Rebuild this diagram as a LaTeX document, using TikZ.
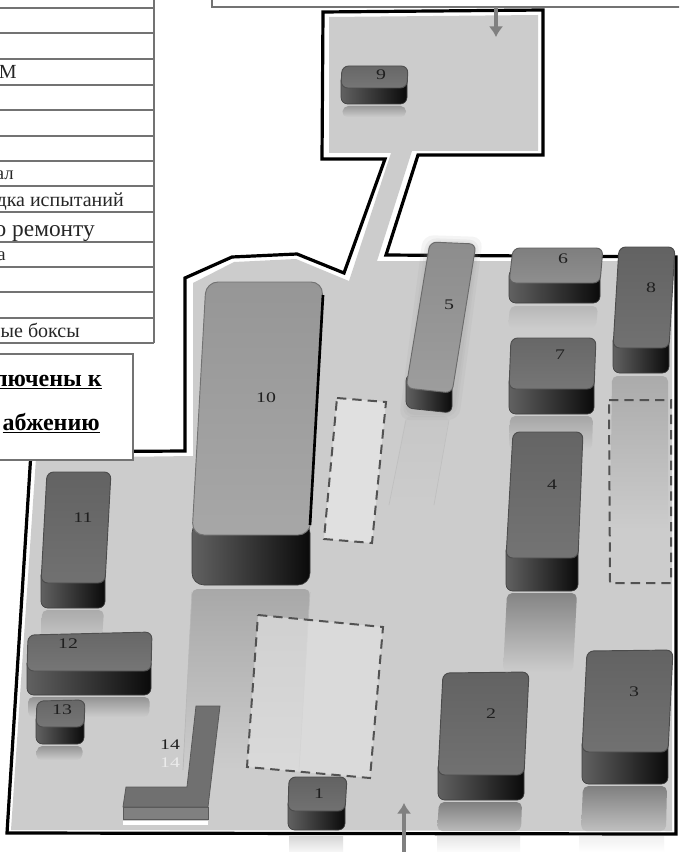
\documentclass[tikz,border=0pt]{standalone}
\usepackage{fontspec}
\usepackage{graphicx}
\setmainfont{Liberation Serif}
\usetikzlibrary{calc,arrows.meta}
\colorlet{ground}{black!20}
\colorlet{rule}{black!55}
\tikzset{
  tline/.style={draw=rule,line width=1.5pt},
  site/.style={draw=black,line width=2.4pt,line join=miter},
  dashzone/.style={draw=black!68,line width=1.5pt,dash pattern=on 7pt off 4.5pt},
  flow/.style={draw=black!50,line width=3.6pt,-{Latex[length=8pt,width=11pt]}},
  num/.style={text=black!88,font=\fontsize{11}{11}\selectfont,inner sep=0pt},
  cell/.style={anchor=base east,inner sep=0pt,text=black!85},
  refl/.style={rounded corners=4pt}
}
% top-left, top-right, bottom-right, bottom-left of the roof; wall height; roof colour
\newcommand\Bld[7][5pt]{%
  \colorlet{tc}{#7}%
  \path[left color=black!62,middle color=black!80,right color=black!96,draw=black!75,line width=.5pt,rounded corners=#1]
    ($#5+(0,-14)$) -- ($#5+(0,#6)$) -- ($#4+(0,#6)$) -- ($#4+(0,-14)$) -- cycle;
  \path[top color=tc!92!black,bottom color=tc!96!white,draw=tc!70!black,line width=.7pt,rounded corners=#1]
    #2 -- #3 -- #4 -- #5 -- cycle;
}
\newcommand\Lab[3]{\node[num] (#3) at #1 {\scalebox{1.35}[1]{#2}};}
\begin{document}
\begin{tikzpicture}[x=0.75pt,y=-0.75pt]
\useasboundingbox (0,0) rectangle (679,852);
\clip (0,0) rectangle (679,852);
\fill[white] (0,0) rectangle (679,852);
% ---------- site ----------
\fill[ground] (11,830) -- (36,458) -- (193,456) -- (193,283) -- (234,262) -- (296,259) -- (349,281) -- (391,153) -- (329,153) -- (329,17) -- (538,15) -- (538,151) -- (412,151) -- (377,261) -- (672,261) -- (672,831) -- cycle;
% ---------- reflections ----------
\shade[refl,top color=black!34,bottom color=ground] (192,589) -- (310,589) -- (299,770) -- (183,770) -- cycle;
\draw[black!28,line width=.5pt] (192,592) -- (183,770) (310,592) -- (299,770);
\shade[refl,top color=black!22,bottom color=ground] (406,416) -- (449,416) -- (434,505) -- (389,505) -- cycle;
\draw[black!25,line width=.5pt] (406,420) -- (389,505) (449,420) -- (434,505);
\shade[refl,top color=black!28,bottom color=ground] (510,306) -- (598,306) -- (596,328) -- (508,328) -- cycle;
\shade[refl,top color=black!35,bottom color=ground] (510,416) -- (593,416) -- (592,450) -- (509,450) -- cycle;
\shade[refl,top color=black!48,bottom color=ground] (507,593) -- (577,593) -- (573,672) -- (503,672) -- cycle;
\shade[refl,top color=black!33,bottom color=ground] (612,376) -- (668,376) -- (668,530) -- (610,530) -- cycle;
\shade[refl,top color=black!50,bottom color=black!25] (583,786) -- (667,786) -- (666,831) -- (581,831) -- cycle;
\shade[refl,top color=black!50,bottom color=black!27] (439,802) -- (522,802) -- (521,831) -- (437,831) -- cycle;
\shade[refl,top color=black!40,bottom color=ground] (343,106) -- (406,106) -- (406,117) -- (342,117) -- cycle;
\shade[refl,top color=black!33,bottom color=black!22] (42,610) -- (104,610) -- (102,640) -- (41,640) -- cycle;
\shade[refl,top color=black!42,bottom color=ground] (28,697) -- (150,697) -- (149,717) -- (28,717) -- cycle;
\shade[refl,top color=black!42,bottom color=ground] (37,746) -- (83,746) -- (82,760) -- (36,760) -- cycle;
\fill[white] (123,821) rectangle (208,825);
% ---------- reserved zones ----------
\path[fill=black!12,fill opacity=.7] (258,615) -- (383,627) -- (370,778) -- (247,767) -- cycle;
\draw[dashzone] (258,615) -- (383,627) -- (370,778) -- (247,767) -- cycle;
\path[fill=black!12] (337,398) -- (386,402) -- (372,543) -- (324,539) -- cycle;
\draw[dashzone] (337,398) -- (386,402) -- (372,543) -- (324,539) -- cycle;
\draw[dashzone] (609,400) -- (671,400) -- (671,583) -- (610,583) -- cycle;
% ---------- outline ----------
\draw[site] (31,452) -- (185,451) -- (185,278) -- (232,257) -- (297,254) -- (344,273) -- (385,159) -- (322,159) -- (323,12) -- (543,10) -- (543,155) -- (418,155) -- (386,255) -- (676,257) -- (676,834) -- (7,833) -- cycle;
% reflections falling past the outline
\shade[top color=black!16,bottom color=black!3] (289,836) rectangle (343,852);
\shade[top color=black!10,bottom color=black!1] (437,836) rectangle (520,852);
\shade[top color=black!6,bottom color=white] (579,836) rectangle (664,852);
% ---------- buildings ----------
\foreach \gg in {7,4,2}
  \fill[black!40,opacity=.1,rounded corners=8pt] (430-\gg,242-\gg) -- (476+\gg,244-\gg) -- (452+\gg,413+\gg) -- (406-\gg,413+\gg) -- cycle;
\Bld{(430,242)}{(476,244)}{(452,393)}{(406,388)}{20}{black!40}
\Bld{(513,248)}{(603,248)}{(600,283)}{(509,283)}{20}{black!46}
\Bld{(511,338)}{(596,338)}{(594,389)}{(509,389)}{25}{black!56}
\Bld{(619,247)}{(675,247)}{(669,348)}{(613,348)}{25}{black!58}
\Bld{(513,432)}{(583,432)}{(578,558)}{(506,558)}{33}{black!57}
\Bld{(443,673)}{(529,672)}{(524,775)}{(438,775)}{25}{black!58}
\Bld{(587,651)}{(673,650)}{(668,752)}{(582,752)}{32}{black!58}
\Bld{(289,777)}{(347,777)}{(345,811)}{(288,811)}{19}{black!58}
\Bld{(342,66)}{(408,66)}{(407,88)}{(341,88)}{16}{black!56}
\Bld{(47,472)}{(111,472)}{(105,583)}{(41,583)}{25}{black!58}
\Bld{(28,635)}{(152,632)}{(151,671)}{(27,671)}{24}{black!56}
\Bld{(37,701)}{(85,700)}{(84,727)}{(36,727)}{17}{black!56}
\Bld[9pt]{(206,282)}{(323,282)}{(310,535)}{(192,535)}{50}{black!36}
\draw[black,line width=2pt] (323,295) -- (310,525);
% L-shaped building 14
\path[fill=black!50,draw=black!65,line width=.6pt] (123,807) -- (208,807) -- (208,819) -- (123,819) -- cycle;
\path[fill=black!56,draw=black!65,line width=.6pt] (196,706) -- (220,706) -- (208,807) -- (123,807) -- (126,787) -- (187,787) -- cycle;
% ---------- numbers ----------
\Lab{(319,794)}{1}{n1}
\Lab{(491,714)}{2}{n2}
\Lab{(634,692)}{3}{n3}
\Lab{(552,485)}{4}{n4}
\Lab{(449,305)}{5}{n5}
\Lab{(563,259)}{6}{n6}
\Lab{(560,355)}{7}{n7}
\Lab{(651,288)}{8}{n8}
\Lab{(381,75)}{9}{n9}
\Lab{(266,398)}{10}{n10}
\Lab{(83,518)}{11}{n11}
\Lab{(68,644)}{12}{n12}
\Lab{(62,710)}{13}{n13}
\Lab{(170,745)}{14}{n14}
\node[num,text=black!8] (n14r) at (170,763) {\scalebox{1.35}[1]{14}};
% ---------- table ----------
\foreach \yy in {8,33,59,85,110,136,161,186,212,242,267,292,318,343}
  \draw[tline] (-5,\yy) -- (154,\yy);
\draw[tline] (154,-5) -- (154,343);
\node[cell,font=\fontsize{15}{15}\selectfont] (t1) at (17,79) {М};
\node[cell,font=\fontsize{14}{14}\selectfont] (t2) at (14,180) {ал};
\node[cell,font=\fontsize{15}{15}\selectfont] (t3) at (124,207) {дка испытаний};
\node[cell,font=\fontsize{17.5}{17.5}\selectfont] (t4) at (95,236) {о ремонту};
\node[cell,font=\fontsize{14}{14}\selectfont] (t5) at (6,260) {а};
\node[cell,font=\fontsize{15}{15}\selectfont] (t6) at (80,337) {ые боксы};
% ---------- text boxes ----------
\draw[draw=rule,line width=2pt,fill=white] (-5,354) rectangle (133,460);
\node[cell,text=black,font=\bfseries\fontsize{18}{18}\selectfont] (b1) at (102,386) {\underline{лючены к}};
\node[cell,text=black,font=\bfseries\fontsize{18}{18}\selectfont] (b2) at (100,430) {\underline{абжению}};
\draw[draw=rule,line width=2pt,fill=white] (212,-8) rectangle (690,7);
% ---------- arrows ----------
\coordinate (topa) at (496,7);
\coordinate (topb) at (496,37);
\draw[flow] (topa) -- (topb);
\coordinate (bota) at (404,803);
\coordinate (botb) at (404,864);
\draw[flow,{Latex[length=8pt,width=11pt]}-{Latex[length=8pt,width=11pt]}] (botb) -- (bota);
\end{tikzpicture}
\end{document}
